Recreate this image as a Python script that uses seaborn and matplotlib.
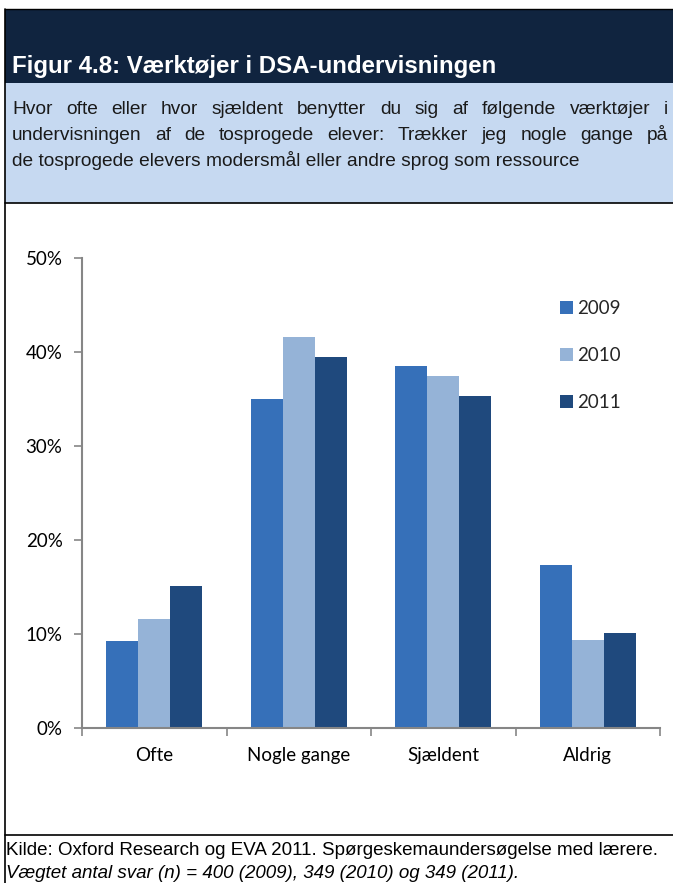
import matplotlib
matplotlib.use("Agg")
import matplotlib.pyplot as plt
import seaborn as sns
import pandas as pd
from matplotlib.patches import Rectangle
from matplotlib.lines import Line2D

categories = ["Ofte", "Nogle gange", "Sjældent", "Aldrig"]
years = ["2009", "2010", "2011"]
values_2009 = [9.3, 35.0, 38.5, 17.3]
values_2010 = [11.6, 41.6, 37.4, 9.4]
values_2011 = [15.1, 39.5, 35.3, 10.1]
ytick_labels = ["0%", "10%", "20%", "30%", "40%", "50%"]
colors = ["#3670B9", "#95B3D7", "#1F497D"]

title = "Figur 4.8: Værktøjer i DSA-undervisningen"
subtitle_lines = [
    "Hvor ofte eller hvor sjældent benytter du sig af følgende værktøjer i",
    "undervisningen af de tosprogede elever: Trækker jeg nogle gange på",
    "de tosprogede elevers modersmål eller andre sprog som ressource",
]
source1 = "Kilde: Oxford Research og EVA 2011. Spørgeskemaundersøgelse med lærere."
source2 = "Vægtet antal svar (n) = 400 (2009), 349 (2010) og 349 (2011)."

rows = []
for yr, vals in zip(years, [values_2009, values_2010, values_2011]):
    for c, v in zip(categories, vals):
        rows.append({"cat": c, "year": yr, "val": v / 100})
df = pd.DataFrame(rows)

sns.set_style("white")
plt.rcParams["font.family"] = ["Liberation Sans", "DejaVu Sans"]

W, H = 673, 883
fig = plt.figure(figsize=(W / 100, H / 100), dpi=100)
renderer = fig.canvas.get_renderer()

def fx(x):
    return x / W

def fy(y):
    return 1 - y / H

# header blocks
fig.patches.append(Rectangle((fx(5), fy(83)), fx(668), 74 / H, transform=fig.transFigure,
                             facecolor="#10243F", edgecolor="none", zorder=0))
fig.patches.append(Rectangle((fx(5), fy(203)), fx(668), 120 / H, transform=fig.transFigure,
                             facecolor="#C6D9F1", edgecolor="none", zorder=0))
# border lines
fig.add_artist(Line2D([fx(5), fx(673)], [fy(9), fy(9)], transform=fig.transFigure, color="black", lw=1))
fig.add_artist(Line2D([fx(5), fx(5)], [fy(9), fy(883)], transform=fig.transFigure, color="black", lw=1.2))
fig.add_artist(Line2D([fx(5), fx(673)], [fy(203), fy(203)], transform=fig.transFigure, color="black", lw=1.2))
fig.add_artist(Line2D([fx(5), fx(673)], [fy(835), fy(835)], transform=fig.transFigure, color="black", lw=1.2))

fig.text(fx(12), fy(73), title, color="white", fontsize=17.3, fontweight="bold", va="baseline")

sub_fs = 13.8
x_left, x_right = 12, 668
for i, line in enumerate(subtitle_lines):
    ybase = fy(114 + 26 * i)
    if i < 2:
        words = line.split(" ")
        texts = [fig.text(0, ybase, w, color="#1a1a1a", fontsize=sub_fs, va="baseline") for w in words]
        widths = [t.get_window_extent(renderer).width for t in texts]
        gap = (x_right - x_left - sum(widths)) / (len(words) - 1)
        xpos = x_left
        for t, wd in zip(texts, widths):
            t.set_x(fx(xpos))
            xpos += wd + gap
    else:
        fig.text(fx(x_left), ybase, line, color="#1a1a1a", fontsize=sub_fs, va="baseline")

fig.text(fx(6), fy(855), source1, color="black", fontsize=13.5, va="baseline")
fig.text(fx(6), fy(878), source2, color="black", fontsize=13.5, va="baseline", style="italic")

ax = fig.add_axes([fx(82), fy(728), fx(660 - 82), 470 / H])
sns.barplot(data=df, x="cat", y="val", hue="year", palette=colors, width=0.664,
            order=categories, hue_order=years, ax=ax, saturation=1, edgecolor="none", linewidth=0)

ax.set_ylim(0, 0.5)
ax.set_xlim(-0.5, 3.5)
ax.set_xlabel("")
ax.set_ylabel("")
ax.set_yticks([0, 0.1, 0.2, 0.3, 0.4, 0.5])
ax.set_yticklabels(ytick_labels)
ax.set_xticks([-0.5, 0.5, 1.5, 2.5, 3.5])
ax.set_xticklabels([""] * 5)
ax.set_xticks([0, 1, 2, 3], minor=True)
ax.set_xticklabels(categories, minor=True)
tickfont = ["Lato", "DejaVu Sans"]
for lab in ax.get_yticklabels() + ax.get_xticklabels(minor=True):
    lab.set_family(tickfont)
    lab.set_fontsize(13.5)
    lab.set_color("black")
ax.tick_params(axis="y", which="major", length=6, width=1.2, color="#868686", pad=8, left=True)
ax.tick_params(axis="x", which="major", length=6, width=1.2, color="#868686", bottom=True)
ax.tick_params(axis="x", which="minor", length=0, pad=14)
for s in ["top", "right"]:
    ax.spines[s].set_visible(False)
for s in ["left", "bottom"]:
    ax.spines[s].set_color("#868686")
    ax.spines[s].set_linewidth(1.5)
ax.set_facecolor("none")

handles, labels = ax.get_legend_handles_labels()
ax.legend(handles, labels, loc="upper left", bbox_to_anchor=(fx(560), fy(300)),
          bbox_transform=fig.transFigure, frameon=False, prop={"family": tickfont, "size": 13.5},
          handlelength=0.7, handleheight=0.7, handletextpad=0.2, labelspacing=1.6,
          borderpad=0, borderaxespad=0)

fig.savefig("out.png", dpi=100)
